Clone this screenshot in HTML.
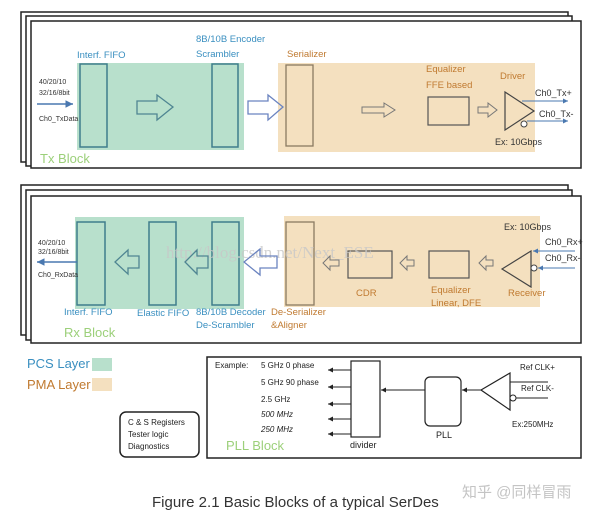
<!DOCTYPE html>
<html><head><meta charset="utf-8"><style>
html,body{margin:0;padding:0;background:#fff;}
svg{display:block;font-family:"Liberation Sans","Noto Sans CJK SC",sans-serif;}
</style></head><body>
<svg width="603" height="517" viewBox="0 0 603 517" xmlns="http://www.w3.org/2000/svg">
<defs>
<marker id="ah" markerWidth="6" markerHeight="6" refX="5" refY="3" orient="auto"><path d="M0,0.5 L5,3 L0,5.5z" fill="#4a78b0"/></marker>
<marker id="ak" markerWidth="6" markerHeight="6" refX="5" refY="3" orient="auto"><path d="M0,0.5 L5,3 L0,5.5z" fill="#222"/></marker>
</defs>
<!-- TX frames -->
<rect x="21" y="12" width="547" height="150" fill="#fff" stroke="#222" stroke-width="1.5"/>
<rect x="26" y="16" width="546" height="150" fill="#fff" stroke="#222" stroke-width="1.5"/>
<rect x="31" y="21" width="550" height="147" fill="#fff" stroke="#222" stroke-width="1.5"/>
<rect x="77" y="63" width="167" height="87" fill="#b8e0cc"/>
<rect x="278" y="63" width="257" height="89" fill="#f4e0bf"/>
<rect x="80" y="64" width="27" height="83" fill="none" stroke="#3f7d8c" stroke-width="1.5"/>
<rect x="212" y="64" width="26" height="83" fill="none" stroke="#3f7d8c" stroke-width="1.5"/>
<rect x="286" y="65" width="27" height="81" fill="none" stroke="#8a7a62" stroke-width="1.3"/>
<rect x="428" y="97" width="41" height="28" fill="none" stroke="#555" stroke-width="1.2"/>
<polygon points="137,101 157,101 157,95 173,107 157,120 157,114 137,114" fill="none" stroke="#4f8592" stroke-width="1.3"/>
<polygon points="248,101 268,101 268,95 283,107 268,120 268,114 248,114" fill="none" stroke="#6b84c0" stroke-width="1.3"/>
<polygon points="362,107 384,107 384,103 395,110 384,117 384,113 362,113" fill="none" stroke="#777" stroke-width="1"/>
<polygon points="478,107 488,107 488,103 497,110 488,117 488,113 478,113" fill="none" stroke="#777" stroke-width="1"/>
<polygon points="505,92 534,111 505,130" fill="none" stroke="#444" stroke-width="1.2"/>
<circle cx="524" cy="124" r="3" fill="#fff" stroke="#444"/>
<line x1="522" y1="101" x2="568" y2="101" stroke="#4a78b0" marker-end="url(#ah)"/>
<line x1="527" y1="121" x2="568" y2="121" stroke="#4a78b0" marker-end="url(#ah)"/>
<line x1="37" y1="104" x2="73" y2="104" stroke="#4a78b0" stroke-width="1.5" marker-end="url(#ah)"/>
<g font-size="7" fill="#333"><text x="39" y="84">40/20/10</text><text x="39" y="95">32/16/8bit</text><text x="39" y="121">Ch0_TxData</text></g>
<g font-size="9.5" fill="#3a8fc0"><text x="77" y="58">Interf. FIFO</text><text x="196" y="42">8B/10B Encoder</text><text x="196" y="57">Scrambler</text></g>
<g font-size="9.5" fill="#c07a30"><text x="287" y="57">Serializer</text><text x="426" y="72">Equalizer</text><text x="426" y="88">FFE based</text><text x="500" y="79">Driver</text></g>
<g font-size="9" fill="#333"><text x="535" y="96">Ch0_Tx+</text><text x="539" y="117">Ch0_Tx-</text><text x="495" y="145">Ex: 10Gbps</text></g>
<text x="40" y="163" font-size="13" fill="#9cd07a">Tx Block</text>

<!-- RX frames -->
<rect x="21" y="185" width="547" height="150" fill="#fff" stroke="#222" stroke-width="1.5"/>
<rect x="26" y="190" width="546" height="150" fill="#fff" stroke="#222" stroke-width="1.5"/>
<rect x="31" y="196" width="550" height="147" fill="#fff" stroke="#222" stroke-width="1.5"/>
<rect x="75" y="217" width="169" height="92" fill="#b8e0cc"/>
<rect x="284" y="216" width="256" height="91" fill="#f4e0bf"/>
<rect x="77" y="222" width="28" height="83" fill="none" stroke="#3f7d8c" stroke-width="1.5"/>
<rect x="149" y="222" width="27" height="83" fill="none" stroke="#3f7d8c" stroke-width="1.5"/>
<rect x="212" y="222" width="27" height="83" fill="none" stroke="#3f7d8c" stroke-width="1.5"/>
<rect x="286" y="222" width="28" height="83" fill="none" stroke="#8a7a62" stroke-width="1.3"/>
<rect x="348" y="251" width="44" height="27" fill="none" stroke="#555" stroke-width="1.2"/>
<rect x="429" y="251" width="40" height="27" fill="none" stroke="#555" stroke-width="1.2"/>
<text x="166" y="258" font-family="Liberation Serif,serif" font-size="17" fill="#c8c8c8" opacity="0.8">http://blog.csdn.net/Next_ESE</text>
<polygon points="139,256 128,256 128,250 115,262 128,274 128,268 139,268" fill="none" stroke="#4f8592" stroke-width="1.3"/>
<polygon points="208,256 197,256 197,250 185,262 197,274 197,268 208,268" fill="none" stroke="#4f8592" stroke-width="1.3"/>
<polygon points="277,256 260,256 260,249 244,262 260,275 260,268 277,268" fill="none" stroke="#6b84c0" stroke-width="1.3"/>
<polygon points="339,260 330,260 330,256 323,263 330,270 330,266 339,266" fill="none" stroke="#777"/>
<polygon points="414,260 407,260 407,256 400,263 407,270 407,266 414,266" fill="none" stroke="#777"/>
<polygon points="493,260 486,260 486,256 479,263 486,270 486,266 493,266" fill="none" stroke="#777"/>
<polygon points="531,251 502,269 531,287" fill="none" stroke="#444" stroke-width="1.2"/>
<circle cx="534" cy="268" r="3" fill="#fff" stroke="#444"/>
<line x1="575" y1="251" x2="533" y2="251" stroke="#4a78b0" marker-end="url(#ah)"/>
<line x1="575" y1="268" x2="538" y2="268" stroke="#4a78b0" marker-end="url(#ah)"/>
<line x1="77" y1="262" x2="37" y2="262" stroke="#4a78b0" stroke-width="1.5" marker-end="url(#ah)"/>
<g font-size="7" fill="#333"><text x="38" y="245">40/20/10</text><text x="38" y="254">32/16/8bit</text><text x="38" y="277">Ch0_RxData</text></g>
<g font-size="9" fill="#333"><text x="504" y="230">Ex: 10Gbps</text><text x="545" y="245">Ch0_Rx+</text><text x="545" y="261">Ch0_Rx-</text></g>
<g font-size="9.5" fill="#3a8fc0"><text x="64" y="315">Interf. FIFO</text><text x="137" y="316">Elastic FIFO</text><text x="196" y="315">8B/10B Decoder</text><text x="196" y="328">De-Scrambler</text></g>
<g font-size="9.5" fill="#c07a30"><text x="271" y="315">De-Serializer</text><text x="271" y="328">&amp;Aligner</text><text x="356" y="296">CDR</text><text x="431" y="293">Equalizer</text><text x="431" y="306">Linear, DFE</text><text x="508" y="296">Receiver</text></g>
<text x="64" y="337" font-size="13" fill="#9cd07a">Rx Block</text>

<!-- Legend -->
<text x="27" y="368" font-size="13" fill="#3a8fc0">PCS Layer</text>
<rect x="92" y="358" width="20" height="13" fill="#b8e0cc"/>
<text x="27" y="389" font-size="13" fill="#c07a30">PMA Layer</text>
<rect x="92" y="378" width="20" height="13" fill="#f4e0bf"/>
<rect x="120" y="412" width="79" height="45" rx="6" fill="none" stroke="#222" stroke-width="1.5"/>
<g font-size="8" fill="#222"><text x="128" y="425">C &amp; S Registers</text><text x="128" y="437">Tester logic</text><text x="128" y="449">Diagnostics</text></g>

<!-- PLL block -->
<rect x="207" y="357" width="374" height="101" fill="#fff" stroke="#222" stroke-width="1.5"/>
<g font-size="8" fill="#222"><text x="215" y="368">Example:</text><text x="261" y="368">5 GHz 0  phase</text><text x="261" y="385">5 GHz 90 phase</text><text x="261" y="402">2.5 GHz</text><text x="261" y="417" font-style="italic">500 MHz</text><text x="261" y="432" font-style="italic">250 MHz</text></g>
<g stroke="#222" marker-end="url(#ak)"><line x1="351" y1="370" x2="328" y2="370"/><line x1="351" y1="387" x2="328" y2="387"/><line x1="351" y1="404" x2="328" y2="404"/><line x1="351" y1="419" x2="328" y2="419"/><line x1="351" y1="434" x2="328" y2="434"/></g>
<rect x="351" y="361" width="29" height="76" fill="none" stroke="#222" stroke-width="1.2"/>
<text x="350" y="448" font-size="9" fill="#222">divider</text>
<line x1="425" y1="390" x2="381" y2="390" stroke="#222" marker-end="url(#ak)"/>
<rect x="425" y="377" width="36" height="49" rx="5" fill="none" stroke="#222" stroke-width="1.2"/>
<text x="436" y="438" font-size="9" fill="#222">PLL</text>
<line x1="481" y1="390" x2="462" y2="390" stroke="#222" marker-end="url(#ak)"/>
<polygon points="510,373 481,390 510,410" fill="none" stroke="#222" stroke-width="1.2"/>
<circle cx="513" cy="398" r="3" fill="#fff" stroke="#222"/>
<line x1="548" y1="382" x2="510" y2="382" stroke="#222"/>
<line x1="548" y1="398" x2="516" y2="398" stroke="#222"/>
<g font-size="8" fill="#222"><text x="520" y="370">Ref CLK+</text><text x="521" y="391">Ref CLK-</text><text x="512" y="427">Ex:250MHz</text></g>
<text x="226" y="450" font-size="13" fill="#9cd07a">PLL Block</text>

<text x="152" y="507" font-size="15" fill="#333">Figure 2.1 Basic Blocks of a typical SerDes</text>
<text x="462" y="497" font-size="15" fill="#c4c4c4">知乎 @同样冒雨</text>
</svg>
</body></html>
